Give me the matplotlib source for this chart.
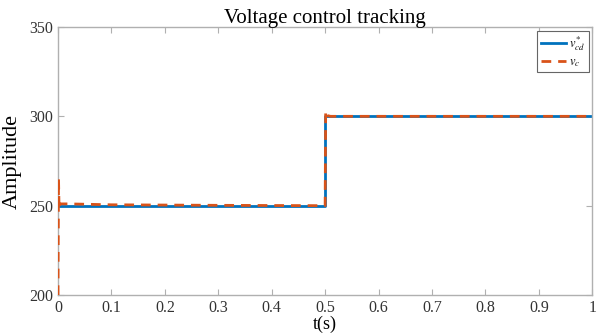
import matplotlib.pyplot as plt
import numpy as np

plt.rcParams['font.family'] = ['Liberation Serif', 'DejaVu Serif']
plt.rcParams['mathtext.fontset'] = 'stix'

# reference voltage v*_cd
t_ref = [0, 0.5, 0.5, 1.0]
v_ref = [250, 250, 300, 300]

# measured voltage v_c
t_vc = [0, 0.001, 0.002, 0.003, 0.02, 0.1, 0.3, 0.5, 0.5, 0.501, 0.503, 0.51, 1.0]
v_vc = [200, 265, 248, 251, 251, 250.5, 250.2, 250, 250, 303, 300.5, 300, 300]

fig = plt.figure(figsize=(6.01, 3.33), dpi=100)
ax = fig.add_axes([0.0965, 0.114, 0.889, 0.805])

ax.plot(t_vc, v_vc, color='#D95319', linewidth=2, linestyle=(0, (3.5, 2.5)), label=r'$v_c$', zorder=3)
ax.plot(t_ref, v_ref, color='#0072BD', linewidth=2, label=r'$v^{*}_{cd}$', zorder=2)

ax.set_xlim(0, 1)
ax.set_ylim(200, 350)
ax.set_xticks(np.arange(0, 1.01, 0.1))
ax.set_xticklabels(['0', '0.1', '0.2', '0.3', '0.4', '0.5', '0.6', '0.7', '0.8', '0.9', '1'])
ax.set_yticks([200, 250, 300, 350])
ax.tick_params(direction='in', length=4, labelsize=11.5, color='#b0b0b0',
               labelcolor='#333333', top=True, right=True, width=0.8)
for s in ax.spines.values():
    s.set_color('#b0b0b0')
    s.set_linewidth(1)

ax.set_title('Voltage control tracking', fontsize=15, pad=3)
ax.set_ylabel('Amplitude', fontsize=16)
ax.yaxis.set_label_coords(-0.068, 0.5)
ax.set_xlabel('t(s)', fontsize=13, labelpad=0)

handles, labels = ax.get_legend_handles_labels()
leg = ax.legend(handles[::-1], labels[::-1], loc='upper right', fontsize=9,
                fancybox=False, framealpha=1, edgecolor='#666666',
                handlelength=2.0, borderpad=0.25, labelspacing=0.3,
                handletextpad=0.3, borderaxespad=0.3)
leg.get_frame().set_linewidth(0.8)

fig.savefig('out.png', dpi=100)
